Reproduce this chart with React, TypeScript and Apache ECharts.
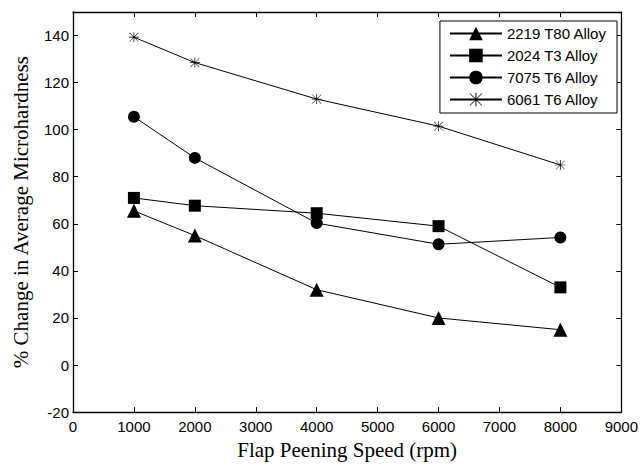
import React, { useEffect, useRef } from "react";
import * as echarts from "echarts";

const speeds = [1000, 2000, 4000, 6000, 8000];
const alloy2219 = [65.5, 55, 32, 20, 15];
const alloy2024 = [71, 67.7, 64.5, 59, 33];
const alloy7075 = [105.5, 88, 60.3, 51.3, 54.2];
const alloy6061 = [139.3, 128.5, 113, 101.5, 85];
const seriesNames = ["2219 T80 Alloy", "2024 T3 Alloy", "7075 T6 Alloy", "6061 T6 Alloy"];

const asterisk =
  "path://M9.3 0H10.7V20H9.3Z M0 9.3H20V10.7H0Z M1.5 0.8L19.2 18.5L18.5 19.2L0.8 1.5Z M18.5 0.8L19.2 1.5L1.5 19.2L0.8 18.5Z";

export default function App() {
  const ref = useRef<HTMLDivElement>(null);
  useEffect(() => {
    if (!ref.current) return;
    const chart = echarts.init(ref.current, undefined, { renderer: "svg" });
    const pair = (vals: number[]) => speeds.map((s, i) => [s, vals[i]]);
    const mk = (name: string, vals: number[], symbol: string, size: number) => ({
      name,
      type: "line",
      data: pair(vals),
      symbol,
      symbolSize: size,
      lineStyle: { color: "#000", width: 1 },
      itemStyle: { color: "#000", borderWidth: 0 },
    });
    const axisCommon = {
      type: "value",
      axisLine: { show: true, onZero: false, lineStyle: { color: "#000", width: 1.3 } },
      axisTick: { show: true, inside: true, length: 5, lineStyle: { color: "#000" } },
      splitLine: { show: false },
    };
    const fmt = (v: number) => String(v);
    chart.setOption({
      animation: false,
      backgroundColor: "#fff",
      grid: { left: 73, right: 18, top: 12, bottom: 47.5 },
      legend: {
        orient: "vertical",
        right: 24,
        top: 21,
        borderColor: "#000",
        borderWidth: 1,
        padding: [5, 10, 6, 9],
        itemWidth: 52,
        itemHeight: 17,
        itemGap: 7,
        backgroundColor: "#fff",
        textStyle: { fontFamily: "Liberation Sans", fontSize: 15, lineHeight: 15, color: "#000" },
        data: seriesNames,
      },
      xAxis: [
        {
          ...axisCommon,
          min: 0,
          max: 9000,
          interval: 1000,
          position: "bottom",
          name: "Flap Peening Speed (rpm)",
          nameLocation: "middle",
          nameGap: 25,
          nameTextStyle: { fontFamily: "Liberation Serif", fontSize: 21, color: "#000" },
          axisLabel: { fontFamily: "Liberation Sans", fontSize: 15, color: "#000", margin: 7, formatter: fmt },
        },
        {
          ...axisCommon,
          min: 0,
          max: 9000,
          interval: 1000,
          position: "top",
          axisLabel: { show: false },
        },
      ],
      yAxis: [
        {
          ...axisCommon,
          min: -20,
          max: 150,
          interval: 20,
          position: "left",
          name: "% Change in Average Microhardness",
          nameLocation: "middle",
          nameGap: 42,
          nameTextStyle: { fontFamily: "Liberation Serif", fontSize: 21, color: "#000" },
          axisLabel: {
            fontFamily: "Liberation Sans",
            fontSize: 15,
            color: "#000",
            margin: 4,
            showMaxLabel: false,
            formatter: fmt,
          },
        },
        {
          ...axisCommon,
          min: -20,
          max: 150,
          interval: 20,
          position: "right",
          axisLabel: { show: false },
        },
      ],
      series: [
        mk(seriesNames[0], alloy2219, "triangle", 14),
        mk(seriesNames[1], alloy2024, "rect", 12),
        mk(seriesNames[2], alloy7075, "circle", 12),
        mk(seriesNames[3], alloy6061, asterisk, 10),
      ],
    });
    return () => chart.dispose();
  }, []);
  return <div ref={ref} style={{ width: 641, height: 465, position: "absolute", left: 0, top: 0 }} />;
}
